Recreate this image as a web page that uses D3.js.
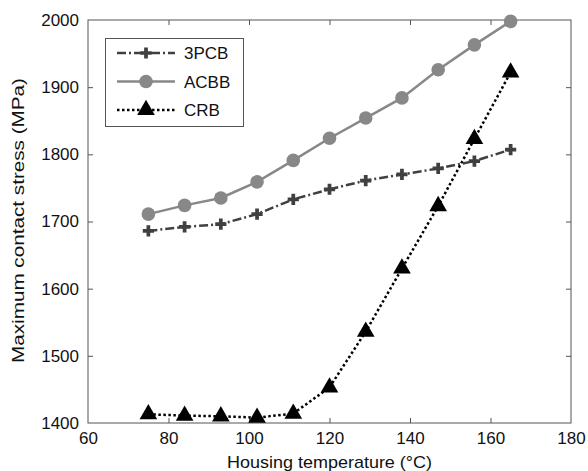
<!DOCTYPE html>
<html>
<head>
<meta charset="utf-8">
<script src="https://cdn.jsdelivr.net/npm/d3@7/dist/d3.min.js"></script>
<style>
  html, body { margin: 0; padding: 0; background: #fff; }
  svg { display: block; font-family: "Liberation Sans", Arial, sans-serif; }
</style>
</head>
<body>
<svg id="chart" width="588" height="471"></svg>
<script>
// Housing temperature (°C)
const temperatures = [75, 84, 93, 102, 111, 120, 129, 138, 147, 156, 165];
// Maximum contact stress (MPa) per bearing type
const stress3PCB = [1686, 1692, 1696, 1711, 1733, 1748, 1761, 1770, 1779, 1790, 1807];
const stressACBB = [1711, 1724, 1735, 1759, 1791, 1824, 1854, 1884, 1926, 1963, 1998];
const stressCRB  = [1413, 1411, 1410, 1408, 1414, 1453, 1536, 1630, 1723, 1823, 1922];
const xTicks = [60, 80, 100, 120, 140, 160, 180];
const yTicks = [1400, 1500, 1600, 1700, 1800, 1900, 2000];
const seriesNames = ["3PCB", "ACBB", "CRB"];

const svg = d3.select("#chart");
const plotLeft = 88, plotRight = 571, plotTop = 20, plotBottom = 423;

const x = d3.scaleLinear().domain([60, 180]).range([plotLeft, plotRight]);
const y = d3.scaleLinear().domain([1400, 2000]).range([plotBottom, plotTop]);

const axisColor = "#555";
const tickLen = 5;
const fontSize = 17;

// frame
svg.append("rect")
  .attr("x", plotLeft).attr("y", plotTop)
  .attr("width", plotRight - plotLeft).attr("height", plotBottom - plotTop)
  .attr("fill", "none").attr("stroke", axisColor).attr("stroke-width", 1);

// axes with inward ticks on all sides
function styleAxis(g) {
  g.select(".domain").remove();
  g.selectAll(".tick line").attr("stroke", axisColor);
  g.selectAll(".tick text").attr("fill", "#111").attr("font-size", fontSize)
    .attr("font-family", "Liberation Sans, Arial, sans-serif");
}
svg.append("g").attr("transform", `translate(0,${plotBottom})`)
  .call(d3.axisBottom(x).tickValues(xTicks).tickFormat(d3.format("d"))
    .tickSizeInner(-tickLen).tickSizeOuter(0).tickPadding(9))
  .call(styleAxis);
svg.append("g").attr("transform", `translate(0,${plotTop})`)
  .call(d3.axisTop(x).tickValues(xTicks).tickSizeInner(-tickLen).tickSizeOuter(0).tickFormat(""))
  .call(styleAxis);
svg.append("g").attr("transform", `translate(${plotLeft},0)`)
  .call(d3.axisLeft(y).tickValues(yTicks).tickFormat(d3.format("d"))
    .tickSizeInner(-tickLen).tickSizeOuter(0).tickPadding(9))
  .call(styleAxis);
svg.append("g").attr("transform", `translate(${plotRight},0)`)
  .call(d3.axisRight(y).tickValues(yTicks).tickSizeInner(-tickLen).tickSizeOuter(0).tickFormat(""))
  .call(styleAxis);

// hide tick marks sitting on the frame corners
svg.selectAll(".tick").filter(d => d === 60 || d === 180 || d === 1400 || d === 2000)
  .select("line").remove();

// axis titles
svg.append("text")
  .attr("x", (plotLeft + plotRight) / 2).attr("y", 468)
  .attr("text-anchor", "middle").attr("font-size", fontSize).attr("fill", "#111")
  .attr("textLength", 205).attr("lengthAdjust", "spacingAndGlyphs")
  .text("Housing temperature (°C)");
svg.append("text")
  .attr("transform", `translate(23.5,220.5) rotate(-90)`)
  .attr("text-anchor", "middle").attr("font-size", fontSize).attr("fill", "#111")
  .attr("textLength", 285).attr("lengthAdjust", "spacingAndGlyphs")
  .text("Maximum contact stress (MPa)");

const series = [
  { name: seriesNames[0], values: stress3PCB, color: "#404040", dash: "9,3,2,3", width: 2.5,
    symbol: d3.symbolCross, size: 70 },
  { name: seriesNames[1], values: stressACBB, color: "#888888", dash: null, width: 2.5,
    symbol: d3.symbolCircle, size: 145 },
  { name: seriesNames[2], values: stressCRB, color: "#000000", dash: "2.5,2.5", width: 2.5,
    symbol: d3.symbolTriangle, size: 135 }
];

const line = d3.line().x(d => x(d[0])).y(d => y(d[1]));

series.forEach(s => {
  const pts = temperatures.map((t, i) => [t, s.values[i]]);
  svg.append("path")
    .attr("d", line(pts))
    .attr("fill", "none").attr("stroke", s.color).attr("stroke-width", s.width)
    .attr("stroke-dasharray", s.dash);
  svg.append("g").selectAll("path").data(pts).join("path")
    .attr("transform", d => `translate(${x(d[0])},${y(d[1])})`)
    .attr("d", d3.symbol().type(s.symbol).size(s.size))
    .attr("fill", s.color);
});

// legend
const lg = svg.append("g");
lg.append("rect")
  .attr("x", 105.5).attr("y", 38.5).attr("width", 138).attr("height", 88)
  .attr("fill", "#fff").attr("stroke", axisColor).attr("stroke-width", 1);
series.forEach((s, i) => {
  const yy = 53 + i * 28.5;
  lg.append("line")
    .attr("x1", 117).attr("x2", 175).attr("y1", yy).attr("y2", yy)
    .attr("stroke", s.color).attr("stroke-width", s.width)
    .attr("stroke-dasharray", s.dash);
  lg.append("path")
    .attr("transform", `translate(146,${yy})`)
    .attr("d", d3.symbol().type(s.symbol).size(s.size))
    .attr("fill", s.color);
  lg.append("text")
    .attr("x", 184).attr("y", yy + 6)
    .attr("font-size", fontSize).attr("fill", "#111")
    .text(s.name);
});
</script>
</body>
</html>
